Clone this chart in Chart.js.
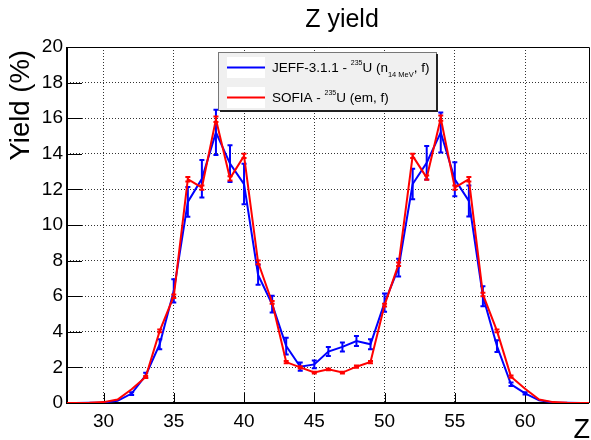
<!DOCTYPE html>
<html>
<head>
<meta charset="utf-8">
<title>Z yield</title>
<script src="https://cdn.jsdelivr.net/npm/chart.js"></script>
<style>
  body { margin: 0; background: #fff; }
  #wrap { width: 591px; height: 440px; position: relative; }
</style>
</head>
<body>
<div id="wrap"><canvas id="myChart"></canvas></div>
<script>
// values
var zValues    = [27, 28, 29, 30, 31, 32, 33, 34, 35, 36, 37, 38, 39, 40, 41, 42, 43, 44, 45, 46,
                  47, 48, 49, 50, 51, 52, 53, 54, 55, 56, 57, 58, 59, 60, 61, 62, 63, 64, 65];
var jeffYield  = [0, 0, 0.01, 0.03, 0.12, 0.53, 1.55, 3.3, 6.3, 11.3, 12.6, 15.2, 13.45, 12.3, 7.2, 5.55, 3.2, 2.04, 2.17, 2.89,
                  3.15, 3.48, 3.3, 5.64, 7.6, 12.3, 13.5, 15.2, 12.57, 11.35, 6.0, 3.2, 1.05, 0.54, 0.15, 0.03, 0.01, 0, 0];
var jeffErr    = [0.01, 0.01, 0.01, 0.02, 0.04, 0.08, 0.15, 0.28, 0.65, 0.84, 1.05, 1.27, 1.03, 1.14, 0.56, 0.47, 0.47, 0.23, 0.22, 0.25,
                  0.25, 0.28, 0.28, 0.51, 0.5, 0.86, 0.94, 1.12, 0.95, 0.87, 0.56, 0.33, 0.1, 0.06, 0.02, 0.01, 0.01, 0.01, 0.01];
var sofiaYield = [0, 0, 0.01, 0.05, 0.2, 0.77, 1.46, 4.05, 6.0, 12.57, 12.1, 15.94, 12.62, 13.88, 7.9, 5.65, 2.3, 2.0, 1.71, 1.89,
                  1.71, 2.04, 2.3, 5.5, 7.8, 13.88, 12.66, 16.0, 12.1, 12.57, 6.1, 4.05, 1.48, 0.8, 0.2, 0.05, 0.01, 0, 0];
var sofiaErr   = [0, 0, 0, 0, 0.02, 0.04, 0.06, 0.08, 0.1, 0.12, 0.12, 0.15, 0.12, 0.12, 0.1, 0.08, 0.06, 0.06, 0.05, 0.05,
                  0.05, 0.06, 0.06, 0.08, 0.1, 0.12, 0.12, 0.15, 0.12, 0.12, 0.1, 0.08, 0.06, 0.04, 0.02, 0, 0, 0, 0];
var xTicks = [30, 35, 40, 45, 50, 55, 60];
var yTicks = [0, 2, 4, 6, 8, 10, 12, 14, 16, 18, 20];

var FONT = '"Liberation Sans", Arial, Helvetica, sans-serif';

function toPoints(vals) {
  return zValues.map(function (z, i) { return { x: z, y: vals[i] }; });
}

// error bars drawn right after their own dataset so layering matches
const errorBars = {
  id: 'errorBars',
  afterDatasetDraw(chart, args) {
    const ds = chart.data.datasets[args.index];
    if (!ds.errors) return;
    const ctx = chart.ctx, xs = chart.scales.x, ys = chart.scales.y, a = chart.chartArea;
    ctx.save();
    ctx.beginPath();
    ctx.rect(a.left, a.top, a.right - a.left, a.bottom - a.top);
    ctx.clip();
    ctx.strokeStyle = ds.borderColor;
    ctx.lineWidth = 2;
    ds.data.forEach(function (p, i) {
      const e = ds.errors[i];
      if (!e || e < 0.05) return;
      const px = xs.getPixelForValue(p.x);
      const y1 = ys.getPixelForValue(p.y - e);
      const y2 = ys.getPixelForValue(p.y + e);
      ctx.beginPath();
      ctx.moveTo(px, y1); ctx.lineTo(px, y2);
      ctx.moveTo(px - 2.5, y1); ctx.lineTo(px + 2.5, y1);
      ctx.moveTo(px - 2.5, y2); ctx.lineTo(px + 2.5, y2);
      ctx.stroke();
    });
    ctx.restore();
  }
};

// solid frame and inward tick marks
const frame = {
  id: 'frame',
  beforeDatasetsDraw(chart) {
    const ctx = chart.ctx, a = chart.chartArea, xs = chart.scales.x, ys = chart.scales.y;
    ctx.save();
    ctx.strokeStyle = '#000';
    ctx.lineWidth = 1;
    ctx.beginPath();
    yTicks.forEach(function (v) {
      const py = Math.round(ys.getPixelForValue(v)) + 0.5;
      ctx.moveTo(a.left, py); ctx.lineTo(a.left + 15, py);
    });
    xTicks.forEach(function (v) {
      const px = Math.round(xs.getPixelForValue(v)) + 0.5;
      ctx.moveTo(px, a.bottom); ctx.lineTo(px, a.bottom - 10);
    });
    ctx.stroke();
    ctx.lineWidth = 2;
    ctx.beginPath();
    ctx.moveTo(a.left, a.top); ctx.lineTo(a.left, a.bottom); ctx.lineTo(a.right, a.bottom);
    ctx.stroke();
    ctx.lineWidth = 1;
    ctx.beginPath();
    ctx.moveTo(a.left, a.top + 0.5); ctx.lineTo(a.right + 0.5, a.top + 0.5); ctx.lineTo(a.right + 0.5, a.bottom);
    ctx.stroke();
    ctx.restore();
  }
};

function richText(ctx, parts, x, y) {
  parts.forEach(function (p) {
    ctx.font = p[1] + 'px ' + FONT;
    ctx.fillText(p[0], x, y + (p[2] || 0));
    x += ctx.measureText(p[0]).width;
  });
}

// titles and the legend box
const annotations = {
  id: 'annotations',
  afterDraw(chart) {
    const ctx = chart.ctx;
    ctx.save();
    ctx.fillStyle = '#000';
    ctx.textBaseline = 'alphabetic';

    ctx.font = '25px ' + FONT;
    ctx.textAlign = 'center';
    ctx.fillText('Z yield', 342, 27);

    ctx.font = '27px ' + FONT;
    ctx.textAlign = 'right';
    ctx.fillText('Z', 590, 438);

    ctx.save();
    ctx.translate(29, 50);
    ctx.rotate(-Math.PI / 2);
    ctx.textAlign = 'right';
    ctx.font = '27.5px ' + FONT;
    ctx.fillText('Yield (%)', 0, 0);
    ctx.restore();

    // legend
    const lx = 218, ly = 52, lw = 218, lh = 58;
    ctx.fillStyle = '#f0f0f0';
    ctx.fillRect(lx, ly, lw, lh);
    ctx.strokeStyle = '#777';
    ctx.lineWidth = 1;
    ctx.strokeRect(lx + 0.5, ly + 0.5, lw, lh);
    ctx.strokeStyle = '#222';
    ctx.lineWidth = 2;
    ctx.beginPath();
    ctx.moveTo(lx + lw + 1, ly + 2); ctx.lineTo(lx + lw + 1, ly + lh + 1); ctx.lineTo(lx + 2, ly + lh + 1);
    ctx.stroke();

    const entries = chart.data.datasets.slice().reverse();
    entries.forEach(function (ds, i) {
      const cy = 67.5 + i * 30;
      ctx.fillStyle = '#fff';
      ctx.fillRect(227, cy - 10.5, 38, 21);
      ctx.strokeStyle = ds.borderColor;
      ctx.lineWidth = 2;
      ctx.beginPath();
      ctx.moveTo(227, cy); ctx.lineTo(265, cy);
      ctx.stroke();
      ctx.fillStyle = '#000';
      ctx.textAlign = 'left';
      richText(ctx, ds.legendParts, 272, cy + 4);
    });
    ctx.restore();
  }
};

const data = {
  datasets: [{
    label: 'SOFIA - 235U (em, f)',
    legendParts: [['SOFIA - ', 13.5], ['235', 7, -7], ['U (em, f)', 13.5]],
    data: toPoints(sofiaYield),
    errors: sofiaErr,
    borderColor: '#ff0000',
    backgroundColor: '#ff0000',
    borderWidth: 2
  }, {
    label: 'JEFF-3.1.1 - 235U (n 14 MeV, f)',
    legendParts: [['JEFF-3.1.1 - ', 13.5], ['235', 7, -7], ['U (n', 13.5], ['14 MeV', 7.5, 5], [', f)', 13.5]],
    data: toPoints(jeffYield),
    errors: jeffErr,
    borderColor: '#0000ff',
    backgroundColor: '#0000ff',
    borderWidth: 2
  }]
};

const config = {
  type: 'line',
  data: data,
  options: {
    responsive: true,
    maintainAspectRatio: false,
    animation: false,
    devicePixelRatio: 1,
    elements: { point: { radius: 0 }, line: { tension: 0 } },
    layout: { padding: { left: 0, right: 2, top: 47, bottom: 0 } },
    plugins: { legend: { display: false }, title: { display: false }, tooltip: { enabled: false } },
    scales: {
      x: {
        type: 'linear',
        min: 27.4,
        max: 64.55,
        afterBuildTicks: function (s) { s.ticks = xTicks.map(function (v) { return { value: v }; }); },
        afterFit: function (s) { s.height = 37; },
        grid: { color: '#333', drawTicks: false },
        border: { display: false, dash: [1, 2] },
        ticks: { autoSkip: false, maxRotation: 0, padding: 7, color: '#000', font: { family: FONT, size: 19 } }
      },
      y: {
        min: 0,
        max: 20,
        afterBuildTicks: function (s) { s.ticks = yTicks.map(function (v) { return { value: v }; }); },
        afterFit: function (s) { s.width = 67; },
        grid: { color: '#333', drawTicks: false },
        border: { display: false, dash: [1, 2] },
        ticks: { padding: 4, color: '#000', font: { family: FONT, size: 19 } }
      }
    }
  },
  plugins: [frame, errorBars, annotations]
};

const myChart = new Chart(document.getElementById('myChart'), config);
</script>
</body>
</html>
